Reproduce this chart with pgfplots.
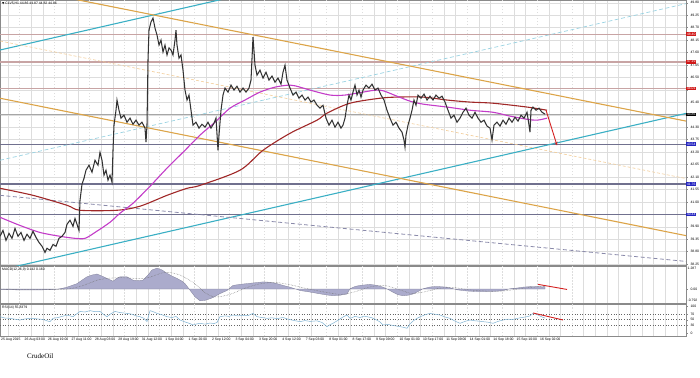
\documentclass[border=0pt]{standalone}
\usepackage{fontspec}
\setmainfont{Liberation Sans}
\newfontfamily\seriff{Liberation Serif}
\newfontfamily\dejavu{DejaVu Sans}
\usepackage{pgfplots}
\pgfplotsset{compat=1.18}
\usetikzlibrary{arrows.meta}

\definecolor{gridc}{HTML}{DDDDDD}
\definecolor{sepc}{HTML}{9A9A9A}
\definecolor{cyanl}{HTML}{3AAFC4}
\definecolor{cyand}{HTML}{9AD3E2}
\definecolor{orl}{HTML}{DCA448}
\definecolor{ord}{HTML}{F2CC98}
\definecolor{purd}{HTML}{8A8AAA}
\definecolor{mag}{HTML}{C33CC8}
\definecolor{dred}{HTML}{A02828}
\definecolor{resl}{HTML}{C8A4A4}
\definecolor{supl}{HTML}{70708E}
\definecolor{histc}{HTML}{ABABCC}
\definecolor{rsic}{HTML}{7FB2D2}
\definecolor{arrowc}{HTML}{D42020}
\definecolor{labred}{HTML}{D01818}
\definecolor{labblue}{HTML}{2424C0}
\definecolor{framec}{HTML}{8A8A8A}

\newcommand{\tinyf}{\fontsize{3.4}{4}\selectfont}

\pgfplotsset{
  mt/.style={
    scale only axis, width=686pt, xmin=0, xmax=686,
    clip mode=individual,
    axis line style={framec, line width=0.7pt},
    xtick={7.8,31.2,42.8,66.2,77.8,101.2,112.8,136.2,147.8,171.2,182.8,206.2,217.8,241.2,252.8,276.2,287.8,311.2,338.2,349.8,373.7,385.3,408.7,420.3,443.7,455.3,478.7,490.3,513.7,525.3,548.7,560.3,583.3,595,606.7,618.3,630,641.7,653.3,665,676.7},
    xticklabels={}, xmajorgrids,
    extra x ticks={19.5,54.5,89.5,124.5,159.5,194.5,229.5,264.5,299.5,326.5,362,397,432,467,502,537,572},
    extra x tick labels={},
    extra x tick style={grid=major, grid style={sepc, dash pattern=on 1.5pt off 1.5pt, line width=0.5pt}},
    major grid style={gridc, line width=0.4pt},
    x tick style={draw=none},
    ytick pos=right, yticklabel pos=right, tick align=outside,
    y tick style={framec, line width=0.4pt}, major tick length=1.5pt,
    yticklabel style={font=\tinyf, anchor=west, xshift=-0.5pt,
      /pgf/number format/fixed, /pgf/number format/fixed zerofill,
      /pgf/number format/precision=2, /pgf/number format/assume math mode=true},
  }
}

\begin{document}
\begin{tikzpicture}
\path[use as bounding box] (0,0) rectangle (700pt,377pt);

% ---------------- main price panel ----------------
\begin{axis}[mt,
  at={(0pt,111.5pt)}, anchor=south west, height=265.5pt,
  ymin=38.19, ymax=49.92,
  ytick={38.25,38.80,39.35,39.90,40.45,41.00,41.55,42.10,42.65,43.20,43.75,44.30,44.85,45.40,45.95,46.50,47.05,47.60,48.15,48.70,49.25,49.80},
  yticklabels={38.25,38.80,39.35,39.90,,41.00,41.55,42.10,42.65,43.20,43.75,44.30,,45.40,,46.50,47.05,47.60,48.15,48.70,49.25,49.80},
  ymajorgrids,
]
% horizontal levels
\addplot[resl, line width=1.5pt] coordinates {(0,48.40) (686,48.40)};
\addplot[resl, line width=1.5pt] coordinates {(0,47.19) (686,47.19)};
\addplot[resl, line width=1.5pt] coordinates {(0,46.01) (686,46.01)};
\addplot[black!35, line width=0.4pt] coordinates {(0,44.86) (686,44.86)};
\addplot[supl, line width=1.2pt] coordinates {(0,43.55) (686,43.55)};
\addplot[supl, line width=1.2pt] coordinates {(0,41.79) (686,41.79)};
\addplot[supl, line width=1.2pt] coordinates {(0,40.44) (686,40.44)};
% channels
\addplot[cyanl, line width=1.1pt] coordinates {(0,47.71) (686,54.63)};
\addplot[cyanl, line width=1.1pt] coordinates {(0,37.99) (686,44.91)};
\addplot[cyand, line width=0.7pt, dash pattern=on 4pt off 2.5pt] coordinates {(0,42.84) (686,49.76)};
\addplot[orl, line width=1.1pt] coordinates {(0,50.61) (686,44.57)};
\addplot[orl, line width=1.1pt] coordinates {(0,45.58) (686,39.51)};
\addplot[ord, line width=0.6pt, dash pattern=on 3pt off 2pt] coordinates {(0,48.11) (686,42.03)};
\addplot[purd, line width=0.8pt, dash pattern=on 4pt off 2.5pt] coordinates {(0,41.29) (686,38.37)};
% moving averages
\addplot[dred, line width=1.1pt, smooth] coordinates {
(0,41.60) (33,41.29) (67,40.85) (80,40.63) (117,40.63) (140,40.81) (167,41.29) (187,41.60)
(200,41.73) (240,42.40) (263,43.28) (290,44.03) (317,44.61) (327,44.92) (350,45.36) (380,45.58)
(397,45.63) (423,45.63) (447,45.50) (470,45.41) (493,45.36) (527,45.19) (547,45.05)};
\addplot[mag, line width=1.1pt, smooth] coordinates {
(0,40.32) (20,39.96) (40,39.65) (60,39.48) (75,39.39) (85,39.39) (95,39.65) (110,40.10)
(120,40.50) (133,40.94) (150,41.69) (167,42.49) (185,43.28) (200,43.95) (215,44.52) (230,45.14)
(245,45.50) (260,45.85) (275,46.07) (290,46.16) (300,46.07) (310,45.94) (330,45.72) (345,45.72)
(363,45.85) (380,45.94) (397,45.67) (410,45.45) (423,45.32) (447,45.19) (470,45.05) (493,44.96)
(510,44.79) (527,44.65) (537,44.61) (547,44.70)};
% price
\addplot[black!80, line width=1.05pt] table {
x y
0 39.48
3 39.74
6 39.30
9 39.61
12 39.39
15 39.83
18 39.48
21 39.65
24 39.30
27 39.57
30 39.39
33 39.70
36 39.43
39 39.21
42 39.04
45 38.77
47 38.95
50 38.86
53 39.12
56 39.04
59 39.39
62 39.48
65 39.65
67 40.01
70 40.19
73 39.92
75 40.27
77 40.01
79 39.74
80 41.07
82 41.78
84 42.04
86 42.40
89 42.62
92 42.31
95 42.84
98 42.62
100 43.19
102 42.84
104 42.18
106 42.40
108 41.96
110 42.18
112 41.87
113 43.28
114 44.39
116 45.05
117 45.50
119 45.05
121 44.70
124 44.83
127 44.52
130 44.70
133 44.43
136 44.61
139 44.39
142 44.52
145 44.26
146 43.64
147 44.39
148 47.27
149 48.59
151 48.95
153 49.12
155 48.68
157 48.37
159 47.93
161 48.15
163 47.62
165 47.93
167 47.49
169 47.80
171 47.71
173 47.49
175 48.15
176 48.59
177 47.93
179 47.35
181 47.49
183 46.82
185 45.94
187 45.50
189 45.72
191 45.05
193 44.39
196 44.52
199 44.26
202 44.43
205 44.30
208 44.52
211 44.26
214 44.48
216 44.70
218 43.28
219 43.95
221 45.05
223 45.72
225 46.03
228 45.85
231 46.16
234 45.94
237 46.11
240 45.85
243 46.03
246 45.85
249 46.03
251 46.38
253 48.28
255 47.04
257 46.60
260 46.82
263 46.47
266 46.73
269 46.38
272 46.56
275 46.29
278 46.47
281 46.20
283 46.73
285 47.04
287 46.38
290 46.03
293 45.72
296 45.85
299 45.58
302 45.72
305 45.50
308 45.63
311 45.41
314 45.50
317 45.27
320 45.14
323 45.27
326 44.70
329 44.39
332 44.61
335 44.30
338 44.52
341 44.26
343 44.39
345 44.70
347 45.27
349 45.72
351 45.50
353 45.85
355 46.16
357 45.72
359 45.94
361 45.63
363 45.94
366 46.16
369 46.03
372 46.20
375 45.94
378 46.03
381 45.72
384 45.50
387 45.05
390 44.70
393 44.39
396 44.52
399 44.26
402 44.08
404 43.73
405 43.42
406 43.95
408 44.39
410 44.70
412 45.05
414 45.50
416 45.27
418 45.72
421 45.58
424 45.76
427 45.50
430 45.67
433 45.50
436 45.72
439 45.58
442 45.67
445 45.41
448 45.05
451 44.70
454 44.83
457 44.52
460 44.70
463 44.96
466 45.14
469 44.83
472 44.70
475 44.96
478 44.70
481 44.52
484 44.61
487 44.35
490 44.26
492 43.73
494 44.39
497 44.52
500 44.35
503 44.61
506 44.43
509 44.70
512 44.52
515 44.74
518 44.57
521 44.83
524 44.70
527 44.96
529 44.39
530 44.08
531 45.05
533 45.19
536 45.05
539 45.14
542 44.96
545 44.88
};
% forecast arrow
\addplot[arrowc, line width=0.9pt, -{Stealth[length=3.5pt,width=3pt]}] coordinates {(546,45.05) (557,43.50)};
% price labels on the right scale
\node[fill=labred, text=white, font=\tinyf, inner xsep=0.8pt, inner ysep=0.7pt, anchor=west] at (axis cs:686,48.40) {48.40};
\node[fill=labred, text=white, font=\tinyf, inner xsep=0.8pt, inner ysep=0.7pt, anchor=west] at (axis cs:686,47.19) {47.19};
\node[fill=labred, text=white, font=\tinyf, inner xsep=0.8pt, inner ysep=0.7pt, anchor=west] at (axis cs:686,46.01) {46.01};
\node[fill=black, text=white, font=\tinyf, inner xsep=0.8pt, inner ysep=0.7pt, anchor=west] at (axis cs:686,44.86) {44.86};
\node[fill=labblue, text=white, font=\tinyf, inner xsep=0.8pt, inner ysep=0.7pt, anchor=west] at (axis cs:686,43.55) {43.54};
\node[fill=labblue, text=white, font=\tinyf, inner xsep=0.8pt, inner ysep=0.7pt, anchor=west] at (axis cs:686,41.79) {41.76};
\node[fill=labblue, text=white, font=\tinyf, inner xsep=0.8pt, inner ysep=0.7pt, anchor=west] at (axis cs:686,40.44) {40.44};
\node[anchor=north west, inner sep=0pt, font=\tinyf] at ([xshift=2pt,yshift=-2pt]rel axis cs:0,1) {{\dejavu\fontsize{3}{4}\selectfont ▼} CLV5,H1 44.86 44.87 44.82 44.86};
\end{axis}

% ---------------- MACD panel ----------------
\begin{axis}[mt,
  at={(0pt,74pt)}, anchor=south west, height=36.5pt,
  ymin=-0.792, ymax=1.287,
  ytick={0}, yticklabels={0.00},
]
\addplot[fill=histc, draw=histc!75!black, line width=0.3pt] table {
x v
0 -0.02
20 -0.05
40 -0.05
55 -0.02
62 0.04
67 0.11
72 0.21
77 0.31
82 0.51
87 0.70
92 0.80
97 0.86
102 0.74
107 0.61
113 0.45
117 0.62
120 0.70
127 0.70
133 0.51
138 0.48
143 0.51
148 0.80
152 1.09
157 1.19
162 1.09
167 0.90
172 0.74
177 0.61
182 0.45
185 0.31
188 0.09
191 -0.14
195 -0.44
200 -0.67
205 -0.64
210 -0.55
213 -0.48
220 -0.26
227 -0.08
233 0.21
240 0.27
253 0.35
263 0.41
270 0.39
277 0.31
285 0.18
290 0.11
300 -0.08
310 -0.17
317 -0.24
325 -0.32
333 -0.38
340 -0.35
347 -0.28
350 0.02
355 0.15
360 0.21
370 0.27
377 0.21
383 0.11
388 -0.02
393 -0.18
398 -0.32
403 -0.38
408 -0.35
413 -0.28
418 -0.14
423 0.02
430 0.12
437 0.15
447 0.11
452 0.04
457 -0.04
467 -0.11
477 -0.14
487 -0.14
497 -0.12
503 -0.08
510 0.02
517 0.06
523 0.11
530 0.14
537 0.15
542 0.12
545 0.14
} \closedcycle;
\addplot[black!55, densely dotted, line width=0.5pt, smooth] coordinates {
(0,0) (60,-0.02) (80,0.15) (100,0.55) (120,0.65) (140,0.60) (150,0.68) (165,0.95) (180,0.80)
(195,0.30) (205,-0.20) (215,-0.45) (230,-0.30) (245,0.05) (260,0.30) (275,0.38) (290,0.25)
(305,0.05) (320,-0.12) (340,-0.30) (355,-0.15) (370,0.12) (385,0.20) (400,-0.05) (412,-0.25)
(425,-0.15) (440,0.05) (455,0.08) (470,-0.05) (490,-0.12) (505,-0.10) (520,0.02) (535,0.12) (545,0.16)};
\addplot[arrowc, line width=0.9pt] coordinates {(538,0.27) (567,-0.02)};
\node[anchor=north west, inner sep=0pt, font=\tinyf] at ([xshift=2pt,yshift=-1.5pt]rel axis cs:0,1) {MACD(12,26,9) 0.142 0.160};
\node[anchor=north west, inner sep=0pt, font=\tinyf] at ([xshift=1.5pt,yshift=-0.5pt]rel axis cs:1,1) {1.287};
\node[anchor=south west, inner sep=0pt, font=\tinyf] at ([xshift=1.5pt,yshift=1pt]rel axis cs:1,0) {-0.792};
\end{axis}

% ---------------- RSI panel ----------------
\begin{axis}[mt,
  at={(0pt,41pt)}, anchor=south west, height=32pt,
  ymin=-9, ymax=107,
  ytick={0,30,50,70,100},
  yticklabel style={/pgf/number format/precision=0},
]
\addplot[black!60, line width=0.6pt, dotted] coordinates {(0,70) (686,70)};
\addplot[black!60, line width=0.6pt, dotted] coordinates {(0,50) (686,50)};
\addplot[black!60, line width=0.6pt, dotted] coordinates {(0,30) (686,30)};
\addplot[rsic, line width=0.5pt] table {
x r
0 61
5 56
10 55
15 52
20 49
25 53
30 55
35 54
40 52
43 51
47 46
50 43
53 55
58 58
62 62
67 67
70 64
73 61
77 72
80 80
85 78
90 83
95 79
100 80
104 68
107 61
111 72
115 80
120 76
127 73
132 70
136 64
140 61
144 55
147 43
150 83
154 78
157 73
162 68
167 61
172 58
176 62
180 49
185 42
190 36
193 31
197 35
200 37
205 34
210 38
214 36
217 40
220 61
225 64
229 62
233 67
238 64
243 66
248 65
253 73
257 61
262 58
267 55
272 57
277 54
283 58
288 52
293 48
300 43
305 47
310 44
317 46
322 40
327 25
330 32
333 37
338 48
343 60
347 67
350 55
355 62
360 58
364 63
367 61
372 57
376 50
380 42
383 31
388 33
393 29
397 27
400 25
404 22
407 19
410 35
413 45
417 55
421 62
425 68
430 73
435 70
440 67
445 60
450 55
455 45
460 37
465 44
470 49
475 46
479 45
483 43
488 41
493 37
498 44
503 49
508 52
512 50
517 55
522 58
527 61
530 64
533 73
536 70
538 67
542 60
545 56
};
\addplot[arrowc, line width=0.9pt] coordinates {(533,74.5) (563,49)};
\node[anchor=north west, inner sep=0pt, font=\tinyf] at ([xshift=2pt,yshift=-1.5pt]rel axis cs:0,1) {RSI(14) 55.8379};
% time scale
\node[anchor=west, inner sep=0pt, font=\tinyf] at ([yshift=-4pt]axis cs:1,-9) {25 Aug 2015};
\node[anchor=west, inner sep=0pt, font=\tinyf] at ([yshift=-4pt]axis cs:24.5,-9) {26 Aug 03:00};
\node[anchor=west, inner sep=0pt, font=\tinyf] at ([yshift=-4pt]axis cs:47.9,-9) {26 Aug 19:00};
\node[anchor=west, inner sep=0pt, font=\tinyf] at ([yshift=-4pt]axis cs:71.3,-9) {27 Aug 11:00};
\node[anchor=west, inner sep=0pt, font=\tinyf] at ([yshift=-4pt]axis cs:94.8,-9) {28 Aug 03:00};
\node[anchor=west, inner sep=0pt, font=\tinyf] at ([yshift=-4pt]axis cs:118.2,-9) {28 Aug 19:00};
\node[anchor=west, inner sep=0pt, font=\tinyf] at ([yshift=-4pt]axis cs:141.6,-9) {31 Aug 12:00};
\node[anchor=west, inner sep=0pt, font=\tinyf] at ([yshift=-4pt]axis cs:165.1,-9) {1 Sep 04:00};
\node[anchor=west, inner sep=0pt, font=\tinyf] at ([yshift=-4pt]axis cs:188.5,-9) {1 Sep 20:00};
\node[anchor=west, inner sep=0pt, font=\tinyf] at ([yshift=-4pt]axis cs:211.9,-9) {2 Sep 12:00};
\node[anchor=west, inner sep=0pt, font=\tinyf] at ([yshift=-4pt]axis cs:235.3,-9) {3 Sep 04:00};
\node[anchor=west, inner sep=0pt, font=\tinyf] at ([yshift=-4pt]axis cs:258.8,-9) {3 Sep 20:00};
\node[anchor=west, inner sep=0pt, font=\tinyf] at ([yshift=-4pt]axis cs:282.2,-9) {4 Sep 12:00};
\node[anchor=west, inner sep=0pt, font=\tinyf] at ([yshift=-4pt]axis cs:305.6,-9) {7 Sep 03:00};
\node[anchor=west, inner sep=0pt, font=\tinyf] at ([yshift=-4pt]axis cs:329.1,-9) {8 Sep 01:00};
\node[anchor=west, inner sep=0pt, font=\tinyf] at ([yshift=-4pt]axis cs:352.5,-9) {8 Sep 17:00};
\node[anchor=west, inner sep=0pt, font=\tinyf] at ([yshift=-4pt]axis cs:375.9,-9) {9 Sep 09:00};
\node[anchor=west, inner sep=0pt, font=\tinyf] at ([yshift=-4pt]axis cs:399.4,-9) {10 Sep 01:00};
\node[anchor=west, inner sep=0pt, font=\tinyf] at ([yshift=-4pt]axis cs:422.8,-9) {10 Sep 17:00};
\node[anchor=west, inner sep=0pt, font=\tinyf] at ([yshift=-4pt]axis cs:446.2,-9) {11 Sep 09:00};
\node[anchor=west, inner sep=0pt, font=\tinyf] at ([yshift=-4pt]axis cs:469.6,-9) {14 Sep 01:00};
\node[anchor=west, inner sep=0pt, font=\tinyf] at ([yshift=-4pt]axis cs:493.1,-9) {14 Sep 18:00};
\node[anchor=west, inner sep=0pt, font=\tinyf] at ([yshift=-4pt]axis cs:516.5,-9) {15 Sep 10:00};
\node[anchor=west, inner sep=0pt, font=\tinyf] at ([yshift=-4pt]axis cs:539.9,-9) {16 Sep 02:00};
\end{axis}

\node[anchor=base west, inner sep=0pt, font=\seriff\fontsize{7}{8}\selectfont] at (27pt,19pt) {CrudeOil};
\end{tikzpicture}
\end{document}
